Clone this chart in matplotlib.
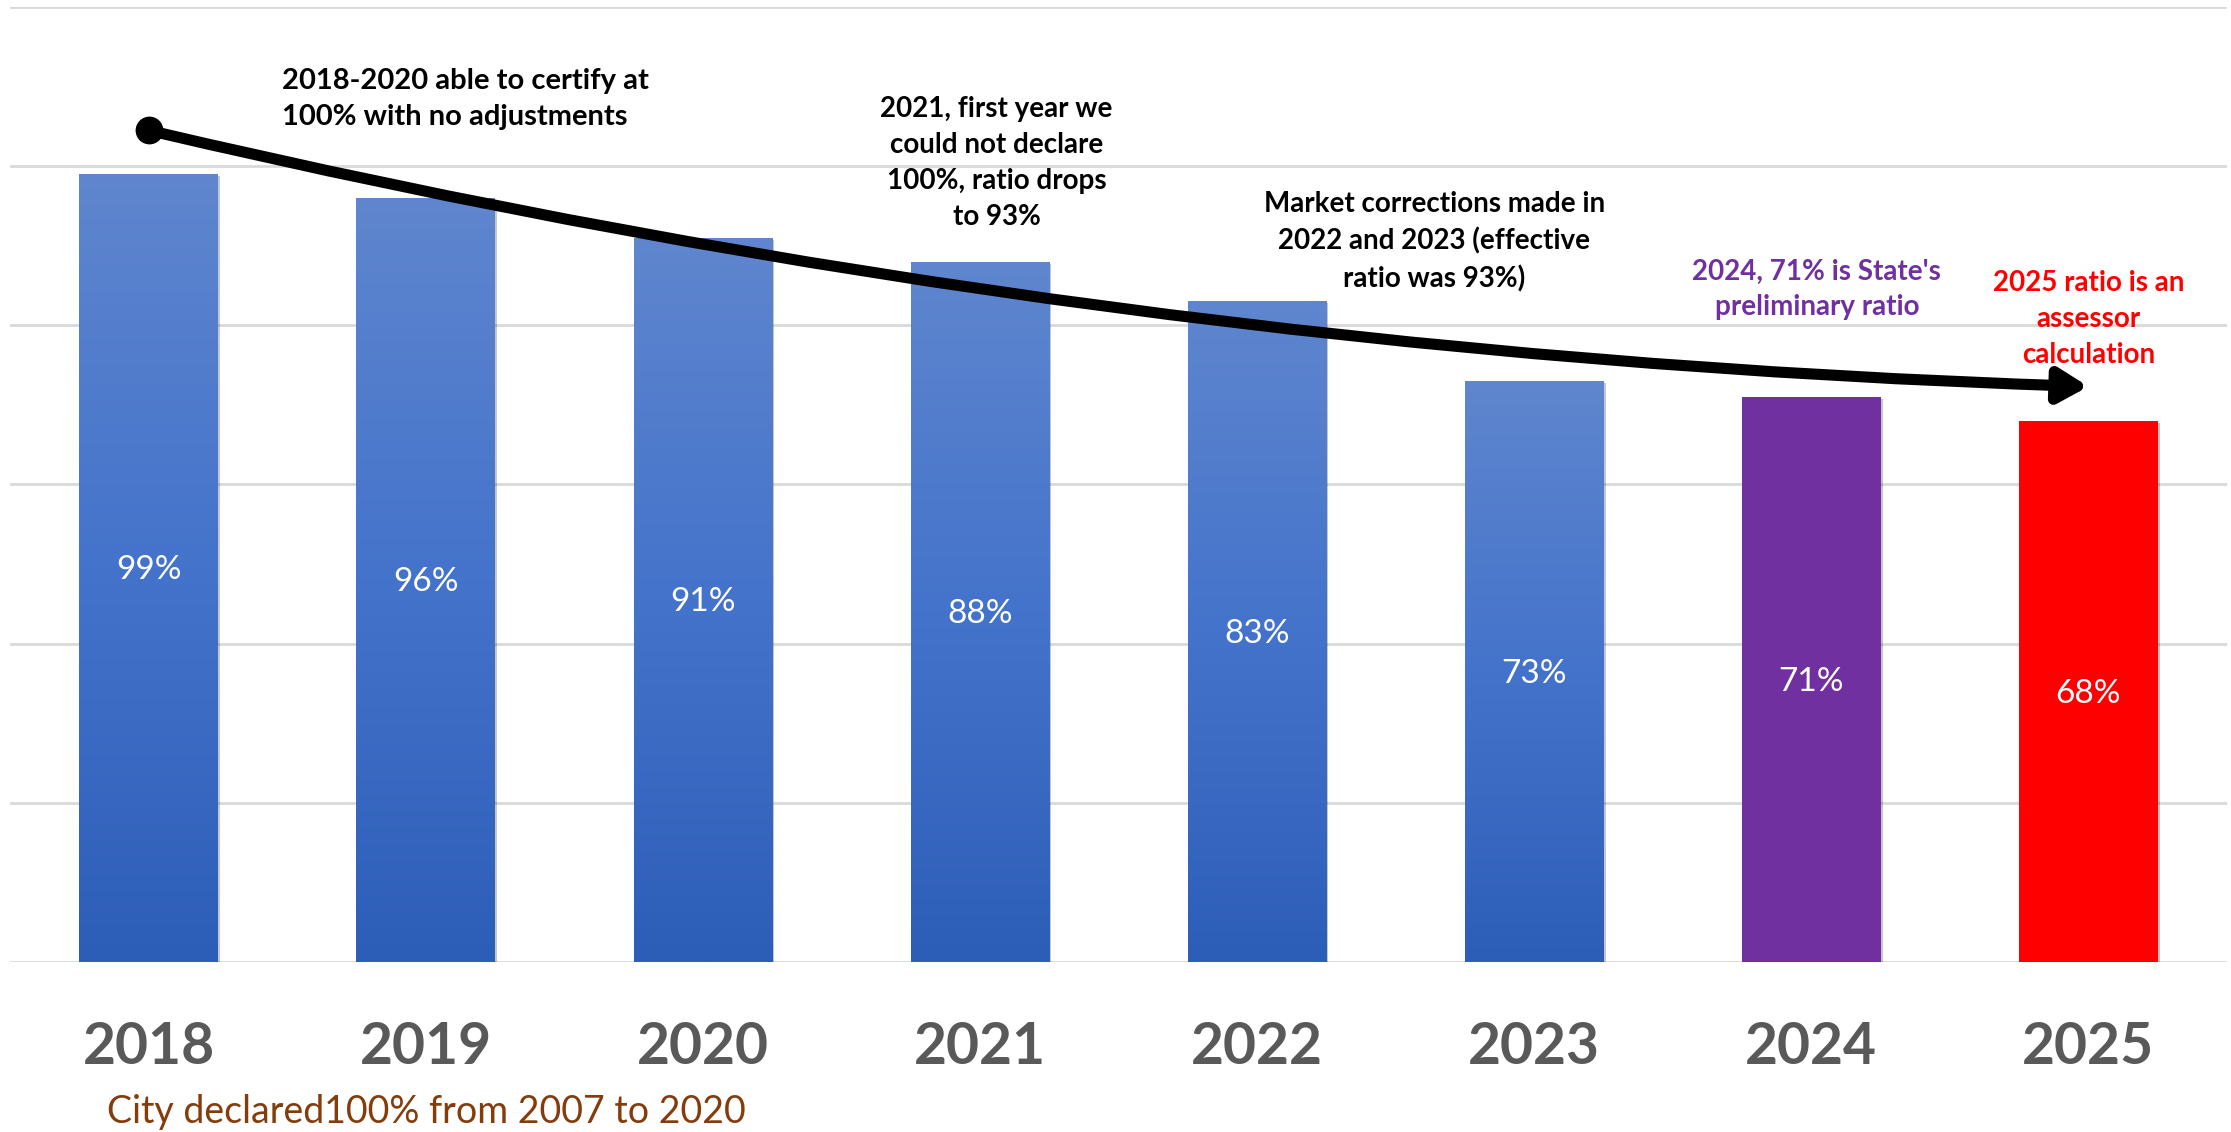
"""Assessment ratio by year, bar chart with annotations."""

import numpy as np
import matplotlib.pyplot as plt
import matplotlib.patheffects as pe
from matplotlib.colors import LinearSegmentedColormap
from matplotlib.patches import FancyArrowPatch

# data
years = ["2018", "2019", "2020", "2021", "2022", "2023", "2024", "2025"]
ratios = [99, 96, 91, 88, 83, 73, 71, 68]

# styling
FONT = "Lato"
SOLID_COLORS = {"2024": "#7030A0", "2025": "#FF0000"}
blue_grad = LinearSegmentedColormap.from_list("bar", ["#2D5EB7", "#4473CB", "#5F86CE"])
GRID = "#D9D9D9"

fig = plt.figure(figsize=(22.31, 11.32), dpi=100)
ax = fig.add_axes([0.0045, 0.1504, 0.9937, 0.8434])

x = np.arange(len(years))
bars = ax.bar(x, ratios, width=0.5, color="#4473CB", zorder=3)

grad = np.linspace(0, 1, 256).reshape(-1, 1)
for year, bar in zip(years, bars):
    bar.set_path_effects([pe.SimplePatchShadow(offset=(1.5, -1.5), alpha=0.25), pe.Normal()])
    if year in SOLID_COLORS:
        bar.set_facecolor(SOLID_COLORS[year])
        continue
    x0, w, h = bar.get_x(), bar.get_width(), bar.get_height()
    im = ax.imshow(grad, extent=[x0, x0 + w, 0, h], aspect="auto", cmap=blue_grad,
                   origin="lower", zorder=3.5)
    im.set_clip_path(bar)

# value labels in the middle of each bar
for i, v in enumerate(ratios):
    ax.text(i, v / 2 - 0.3, f"{v}%", ha="center", va="center", color="white",
            fontsize=24, family=FONT, zorder=5)

ax.set_xlim(-0.5, len(years) - 0.5)
ax.set_ylim(0, 120)
ax.set_yticks(np.arange(0, 121, 20))
ax.set_yticklabels([])
ax.yaxis.grid(True, color=GRID, linewidth=2)
ax.set_axisbelow(True)
ax.tick_params(axis="y", length=0)
for s in ax.spines.values():
    s.set_visible(False)

ax.set_xticks(x)
ax.set_xticklabels(years, fontsize=41, fontweight="bold", color="#595959", family=FONT)
ax.tick_params(axis="x", length=0, pad=43)

# trend arrow
start, end = (0, 104.5), (7.0, 72.3)
arrow = FancyArrowPatch(start, end, connectionstyle="arc3,rad=0.05",
                        arrowstyle="-|>,head_length=0.85,head_width=0.5",
                        mutation_scale=20, lw=8, color="black",
                        shrinkA=0, shrinkB=0, zorder=6)
ax.add_patch(arrow)
ax.plot(*start, "o", ms=19, color="black", zorder=7, clip_on=False)

# annotations
note = dict(fontsize=20, fontweight="bold", family=FONT, linespacing=1.48, zorder=8)
ax.text(0.48, 108.4, "2018-2020 able to certify at\n100% with no adjustments",
        ha="left", va="center", color="black", **{**note, "fontsize": 21})
ax.text(3.06, 100.4, "2021, first year we\ncould not declare\n100%, ratio drops\nto 93%",
        ha="center", va="center", color="black", **note)
ax.text(4.64, 90.5, "Market corrections made in\n2022 and 2023 (effective\nratio was 93%)",
        ha="center", va="center", color="black", **note)
ax.text(6.02, 84.5, "2024, 71% is State's\npreliminary ratio",
        ha="center", va="center", color="#7030A0", **note)
ax.text(7.0, 80.8, "2025 ratio is an\nassessor\ncalculation",
        ha="center", va="center", color="#FF0000", **note)

fig.text(107 / 2231, 1 - 1112 / 1132, "City declared100% from 2007 to 2020",
         ha="left", va="center", fontsize=27, color="#843C0C", family=FONT)

fig.savefig("out.png", dpi=100)
